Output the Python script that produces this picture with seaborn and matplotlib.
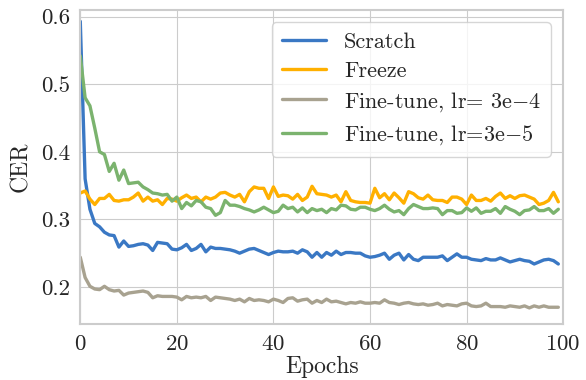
import pandas as pd
import matplotlib.pyplot as plt
import numpy as np
import seaborn as sns

epochs = list(range(100))

scratch = [0.593, 0.36, 0.315, 0.294, 0.289, 0.281, 0.277, 0.276, 0.259, 0.268,
           0.260, 0.261, 0.263, 0.264, 0.262, 0.254, 0.266, 0.265, 0.264, 0.256,
           0.255, 0.258, 0.263, 0.254, 0.257, 0.263, 0.252, 0.259, 0.257, 0.257,
           0.256, 0.255, 0.253, 0.250, 0.253, 0.256, 0.257, 0.254, 0.251, 0.248,
           0.251, 0.253, 0.252, 0.252, 0.253, 0.250, 0.255, 0.252, 0.244, 0.251,
           0.244, 0.251, 0.247, 0.253, 0.248, 0.251, 0.251, 0.250, 0.250, 0.246,
           0.244, 0.245, 0.247, 0.250, 0.241, 0.247, 0.250, 0.240, 0.248, 0.241,
           0.239, 0.244, 0.244, 0.244, 0.244, 0.246, 0.239, 0.244, 0.249, 0.244,
           0.244, 0.241, 0.240, 0.239, 0.242, 0.240, 0.240, 0.243, 0.240, 0.237,
           0.239, 0.241, 0.239, 0.238, 0.234, 0.237, 0.240, 0.241, 0.239, 0.234]

freeze = [0.339, 0.342, 0.330, 0.322, 0.331, 0.331, 0.337, 0.328, 0.327, 0.329,
          0.329, 0.333, 0.339, 0.327, 0.333, 0.327, 0.329, 0.322, 0.331, 0.330,
          0.327, 0.332, 0.336, 0.331, 0.333, 0.326, 0.333, 0.330, 0.333, 0.339,
          0.340, 0.336, 0.333, 0.337, 0.326, 0.341, 0.348, 0.346, 0.346, 0.331,
          0.348, 0.334, 0.336, 0.335, 0.330, 0.337, 0.328, 0.333, 0.349, 0.338,
          0.337, 0.336, 0.333, 0.336, 0.326, 0.341, 0.328, 0.326, 0.325, 0.325,
          0.324, 0.346, 0.332, 0.338, 0.329, 0.339, 0.332, 0.324, 0.341, 0.338,
          0.332, 0.330, 0.336, 0.329, 0.328, 0.328, 0.325, 0.333, 0.333, 0.330,
          0.322, 0.336, 0.328, 0.328, 0.331, 0.327, 0.334, 0.339, 0.331, 0.335,
          0.331, 0.335, 0.336, 0.333, 0.330, 0.322, 0.324, 0.328, 0.340, 0.326]

ft_3e4 = [0.244, 0.214, 0.201, 0.197, 0.196, 0.201, 0.196, 0.194, 0.195, 0.188,
          0.191, 0.192, 0.193, 0.194, 0.192, 0.184, 0.187, 0.186, 0.186, 0.186,
          0.185, 0.181, 0.186, 0.184, 0.185, 0.184, 0.186, 0.180, 0.185, 0.184,
          0.183, 0.182, 0.180, 0.182, 0.178, 0.183, 0.180, 0.181, 0.180, 0.178,
          0.182, 0.180, 0.177, 0.183, 0.184, 0.179, 0.181, 0.182, 0.176, 0.180,
          0.177, 0.182, 0.178, 0.179, 0.177, 0.175, 0.177, 0.176, 0.178, 0.176,
          0.176, 0.177, 0.176, 0.181, 0.177, 0.176, 0.174, 0.176, 0.177, 0.175,
          0.174, 0.175, 0.173, 0.174, 0.176, 0.172, 0.174, 0.173, 0.172, 0.175,
          0.176, 0.172, 0.171, 0.172, 0.176, 0.171, 0.171, 0.171, 0.170, 0.172,
          0.171, 0.170, 0.172, 0.169, 0.172, 0.170, 0.172, 0.170, 0.170, 0.170]

ft_3e5 = [0.542, 0.480, 0.468, 0.435, 0.400, 0.396, 0.371, 0.383, 0.358, 0.373,
          0.353, 0.354, 0.355, 0.348, 0.344, 0.339, 0.338, 0.336, 0.337, 0.327,
          0.333, 0.316, 0.325, 0.320, 0.328, 0.326, 0.318, 0.316, 0.306, 0.310,
          0.328, 0.321, 0.321, 0.319, 0.316, 0.314, 0.311, 0.314, 0.318, 0.314,
          0.310, 0.312, 0.321, 0.316, 0.318, 0.311, 0.317, 0.310, 0.316, 0.313,
          0.315, 0.310, 0.316, 0.314, 0.321, 0.320, 0.315, 0.314, 0.318, 0.318,
          0.315, 0.313, 0.316, 0.321, 0.315, 0.311, 0.313, 0.307, 0.316, 0.322,
          0.319, 0.316, 0.316, 0.317, 0.316, 0.307, 0.313, 0.313, 0.309, 0.310,
          0.317, 0.312, 0.317, 0.309, 0.312, 0.312, 0.316, 0.309, 0.319, 0.315,
          0.312, 0.307, 0.313, 0.314, 0.319, 0.313, 0.313, 0.316, 0.309, 0.315]

labels = ["Scratch", "Freeze", "Fine-tune, lr= 3e$-$4", "Fine-tune, lr=3e$-$5"]
colors = ["#3a78c4", "#ffb000", "#a8a290", "#7bb36e"]

df = pd.concat([
    pd.DataFrame({"Epochs": epochs, "CER": vals, "run": lab})
    for vals, lab in zip([scratch, freeze, ft_3e4, ft_3e5], labels)
])

sns.set_style("whitegrid")
plt.rcParams["font.family"] = "serif"
plt.rcParams["font.serif"] = ["cmr10"]
plt.rcParams["mathtext.fontset"] = "cm"
plt.rcParams["axes.formatter.use_mathtext"] = True
plt.rcParams["axes.unicode_minus"] = False

fig, ax = plt.subplots(figsize=(5.86, 3.80), dpi=100)
fig.subplots_adjust(left=0.137, right=0.961, top=0.974, bottom=0.147)

sns.lineplot(data=df, x="Epochs", y="CER", hue="run", palette=colors,
             linewidth=2.4, ax=ax)

ax.set_xlim(0, 100)
ax.set_ylim(0.145, 0.61)
ax.set_xticks([0, 20, 40, 60, 80, 100])
ax.set_yticks([0.2, 0.3, 0.4, 0.5, 0.6])
ax.set_yticklabels(["0.2", "0.3", "0.4", "0.5", "0.6"])
ax.tick_params(labelsize=16.5, pad=4)
ax.set_xlabel("Epochs", fontsize=17, labelpad=1)
ax.set_ylabel("CER", fontsize=17, labelpad=6)
for s in ax.spines.values():
    s.set_color("#cccccc")
    s.set_linewidth(1.5)

ax.legend(loc="upper right", fontsize=16, handlelength=2.0, frameon=True,
          borderaxespad=0.55, labelspacing=0.42, borderpad=0.45)

plt.savefig("out.png", dpi=100)
